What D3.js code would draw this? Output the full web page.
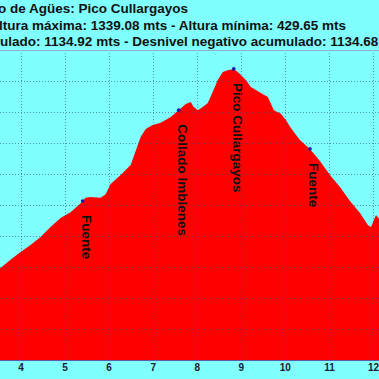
<!DOCTYPE html>
<html><head><meta charset="utf-8">
<script src="https://cdn.jsdelivr.net/npm/d3@7"></script>
<style>html,body{margin:0;padding:0;background:#80ffff;overflow:hidden}svg{display:block}</style>
</head><body>
<script>
const titleLines = [
  "Pueblo de Agües: Pico Cullargayos",
  "Altura máxima: 1339.08 mts - Altura mínima: 429.65 mts",
  "Desnivel positivo acumulado: 1134.92 mts - Desnivel negativo acumulado: 1134.68 mts"
];
const distKm = [3.50,3.545,3.773,4.0,4.227,4.455,4.682,4.909,5.136,5.364,5.477,5.591,5.818,5.932,6.045,6.273,6.5,6.727,6.841,7.0,7.182,7.409,7.591,7.75,7.864,7.932,8.023,8.136,8.25,8.364,8.477,8.591,8.705,8.841,8.955,9.114,9.227,9.341,9.455,9.614,9.75,9.909,10.023,10.136,10.341,10.568,10.795,11.023,11.25,11.477,11.705,11.886,11.955,12.068,12.159,12.25];
const elevM = [690,697,723,748,771,797,829,858,877,906,923,926,923,935,968,997,1029,1119,1145,1158,1165,1184,1206,1226,1232,1216,1206,1216,1229,1265,1303,1329,1335,1339,1326,1303,1281,1271,1261,1248,1206,1194,1174,1148,1110,1081,1042,997,958,913,874,835,829,868,852,845];
const waypointNames = ["Fuente","Collado Imblenes","Pico Cullargayos","Fuente"];
const waypointKm = [5.41,7.59,8.84,10.57];
const waypointElev = [913,1206,1339,1081];
const xTicks = [4,5,6,7,8,9,10,11,12];
const yGrid = [500,600,700,800,900,1000,1100,1200,1300];

const W = 379, H = 379;
const svg = d3.select("body").append("svg").attr("width", W).attr("height", H);
svg.append("rect").attr("width", W).attr("height", H).attr("fill", "#80ffff");

const x = d3.scaleLinear().domain([4, 12]).range([20.5, 373]);
const y = d3.scaleLinear().domain([400, 1400]).range([360, 50]);

const pts = distKm.map((d, i) => ({km: d, e: elevM[i]}));
const area = d3.area().x(d => x(d.km)).y0(y(400)).y1(d => y(d.e));
svg.append("path").datum(pts).attr("d", area).attr("fill", "#ff0000");

// grid
const grid = svg.append("g").attr("stroke", "#2a3a8a").attr("stroke-opacity", 0.55)
  .attr("stroke-width", 1).attr("stroke-dasharray", "1,2");
grid.selectAll("line.v").data(xTicks).join("line").attr("class", "v")
  .attr("x1", d => Math.round(x(d)) + 0.5).attr("x2", d => Math.round(x(d)) + 0.5)
  .attr("y1", y(1400)).attr("y2", y(400));
grid.selectAll("line.h").data(yGrid).join("line").attr("class", "h")
  .attr("x1", 0).attr("x2", W)
  .attr("y1", d => Math.round(y(d)) + 0.5).attr("y2", d => Math.round(y(d)) + 0.5);

// top border and x axis
svg.append("line").attr("x1", 0).attr("x2", W).attr("y1", y(1400) + 0.5).attr("y2", y(1400) + 0.5)
  .attr("stroke", "#8fb2c8").attr("stroke-width", 1.2);
const xAxis = d3.axisBottom(x).tickValues(xTicks).tickSize(0).tickPadding(4).tickFormat(d3.format("d"));
const gx = svg.append("g").attr("transform", `translate(0,${y(400)})`).call(xAxis);
gx.select(".domain").attr("stroke", "#5a5ab0").attr("stroke-width", 1.2).attr("d", `M0,0.5H${W}`);
gx.selectAll("text").attr("font-family", "'Liberation Sans Narrow', 'Arial Narrow', sans-serif")
  .attr("font-weight", "bold").attr("font-size", "10px").attr("fill", "#1a2030");

// waypoints
const wp = waypointNames.map((n, i) => ({n, km: waypointKm[i], e: waypointElev[i]}));
svg.selectAll("circle.wp").data(wp).join("circle").attr("class", "wp")
  .attr("cx", d => x(d.km)).attr("cy", d => y(d.e)).attr("r", 1.8).attr("fill", "#1a1aa8");
svg.selectAll("text.wp").data(wp).join("text").attr("class", "wp")
  .attr("transform", d => `translate(${x(d.km) - 1},${y(d.e) + 14}) rotate(90)`)
  .attr("font-family", "'Liberation Sans', Arial, sans-serif").attr("font-weight", "bold")
  .attr("font-size", "13.5px").attr("fill", "#111").text(d => d.n);

// titles
const titleX = [188, 346, 406];
const titleY = [13, 29.5, 46];
svg.selectAll("text.title").data(titleLines).join("text").attr("class", "title")
  .attr("x", (d, i) => titleX[i]).attr("y", (d, i) => titleY[i]).attr("text-anchor", "end")
  .attr("font-family", "'Liberation Sans', Arial, sans-serif").attr("font-weight", "bold")
  .attr("font-size", "13.5px").attr("fill", "#111").text(d => d);
</script>
</body></html>
